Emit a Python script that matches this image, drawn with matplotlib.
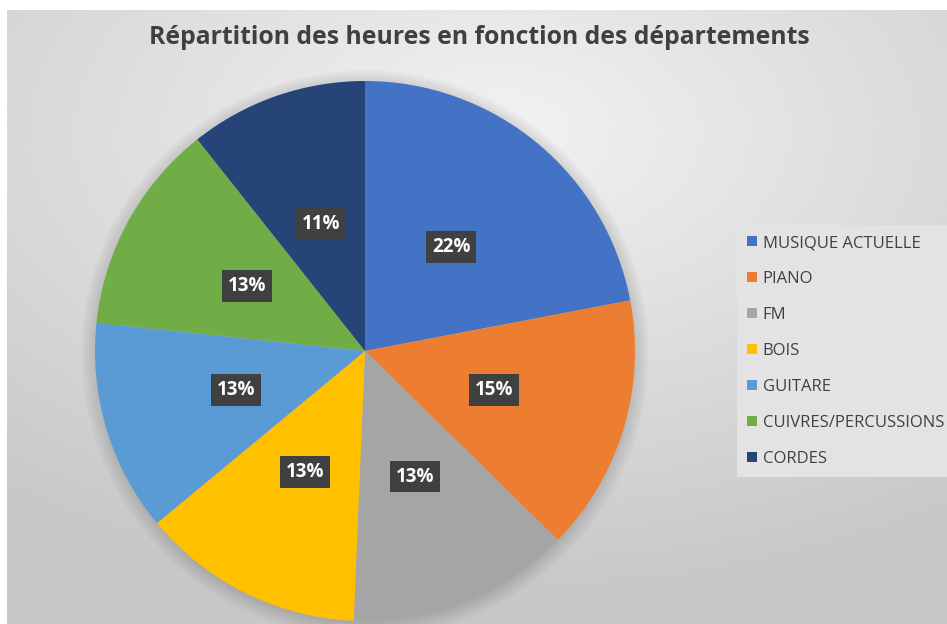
import matplotlib.pyplot as plt
import numpy as np
from matplotlib.patches import Patch, Circle

departements = ["MUSIQUE ACTUELLE", "PIANO", "FM", "BOIS", "GUITARE",
                "CUIVRES/PERCUSSIONS", "CORDES"]
heures = [33, 23, 20, 20, 19, 19, 16]
couleurs = ["#4472C4", "#ED7D31", "#A5A5A5", "#FFC000", "#5B9BD5",
            "#70AD47", "#264478"]
titre = "Répartition des heures en fonction des départements"

W, H = 947, 624
fig = plt.figure(figsize=(W / 100, H / 100), dpi=100)
fig.patch.set_facecolor("white")

# fond en degradé radial
bg = fig.add_axes([7 / W, 0, (W - 7) / W, (H - 10) / H])
yy, xx = np.mgrid[0:1:300j, 0:1:450j]
d = np.sqrt(((xx - 0.52) / 1.0) ** 2 + ((yy - 0.2) / 0.9) ** 2)
grad = 0.95 - 0.17 * np.clip(d / 0.85, 0, 1)
bg.imshow(grad, cmap="gray", vmin=0, vmax=1, aspect="auto",
          extent=[0, 1, 1, 0], interpolation="bicubic")
bg.set_axis_off()

# camembert
cx, cy, r = 365, H - 351, 270
ax = fig.add_axes([(cx - r) / W, (cy - r) / H, 2 * r / W, 2 * r / H])

total = sum(heures)
wedges, _ = ax.pie(heures, colors=couleurs, startangle=90, counterclock=False,
                   radius=1, wedgeprops=dict(linewidth=0))
for w in wedges:
    w.set_zorder(1)
ax.set_xlim(-1, 1)
ax.set_ylim(-1, 1)
ax.set_axis_off()

# ombre douce
for a in np.linspace(1.05, 1.0, 6):
    ax.add_patch(Circle((0, -0.01), a, color="black", alpha=0.025, lw=0,
                        zorder=0, clip_on=False))

angle = 90.0
for v in heures:
    frac = v / total
    mid = np.deg2rad(angle - frac * 180)
    angle -= frac * 360
    ax.text(0.5 * np.cos(mid), 0.5 * np.sin(mid), f"{frac * 100:.0f}%",
            ha="center", va="center", color="white", fontsize=13.5,
            fontweight="bold", family="Open Sans", zorder=5,
            bbox=dict(boxstyle="square,pad=0.3", facecolor="#404040",
                      edgecolor="none"))

fig.text(479 / W, 1 - 38 / H, titre, ha="center", va="center", fontsize=17.8,
         fontweight="bold", color="#404040", family="Open Sans")

handles = [Patch(facecolor=c, edgecolor="none") for c in couleurs]
leg = fig.legend(handles, departements, loc="upper left",
                 bbox_to_anchor=(737 / W, 1 - 225 / H), frameon=True,
                 fancybox=False, prop=dict(family="Open Sans", size=12),
                 labelcolor="#404040", handlelength=0.6, handleheight=0.6,
                 handletextpad=0.35, labelspacing=1.2, borderpad=0.6,
                 borderaxespad=0)
leg.get_frame().set_facecolor("#e3e3e3")
leg.get_frame().set_edgecolor("none")
leg.get_frame().set_alpha(1)

fig.savefig("out.png", dpi=100)
